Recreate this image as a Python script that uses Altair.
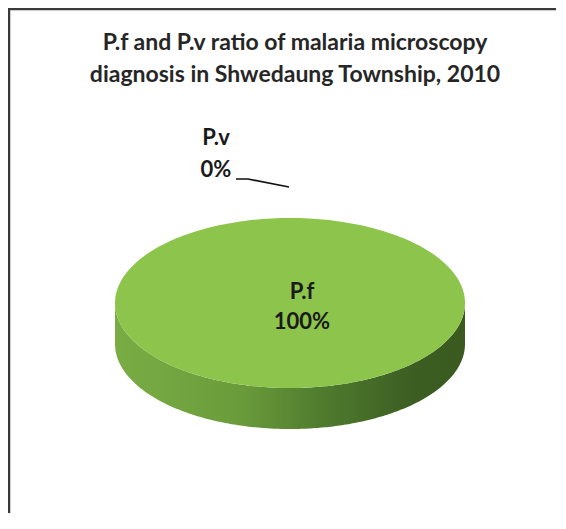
import altair as alt
import pandas as pd

# ---- data ----
categories = ["P.f", "P.v"]
values = [100, 0]
slice_colors = ["#8dc54c", "#c0504d"]
title_lines = ["P.f and P.v ratio of malaria microscopy",
               "diagnosis in Shwedaung Township, 2010"]

# ---- layout (page pixel coordinates) ----
W, H = 548, 505
CX, CY, A, B, DEPTH = 290, 303, 175, 85, 41
N = 241
FONT = "Lato"

df = pd.DataFrame({"category": categories, "value": values,
                   "order": list(range(len(categories)))})

xs = alt.Scale(domain=[8, 8 + W], nice=False, zero=False)
ys = alt.Scale(domain=[8, 8 + H], reverse=True, nice=False, zero=False)
color_scale = alt.Scale(domain=categories, range=slice_colors)

base = alt.Chart(df).transform_joinaggregate(
    total="sum(value)"
).transform_window(
    cum="sum(value)", sort=[alt.SortField("order")], frame=[None, 0]
).transform_calculate(
    frac="datum.value / datum.total",
    s="(datum.cum - datum.value) / datum.total * 2 * PI",
    e="datum.cum / datum.total * 2 * PI",
)

# side wall (front half only)
wall = base.transform_calculate(
    lo="max(datum.s, PI / 2)", hi="min(datum.e, 3 * PI / 2)"
).transform_filter("datum.hi > datum.lo").transform_calculate(
    idx=f"sequence(0, {2 * N})"
).transform_flatten(["idx"]).transform_calculate(
    t=f"datum.idx < {N} ? datum.idx / {N - 1} : 1 - (datum.idx - {N}) / {N - 1}",
    th="datum.lo + (datum.hi - datum.lo) * datum.t",
    px=f"{CX} + {A} * sin(datum.th)",
    py=f"{CY} - {B} * cos(datum.th) + (datum.idx < {N} ? 0 : {DEPTH})",
).mark_line(
    filled=True,
    color=alt.Gradient(
        gradient="linear", x1=0, x2=1, y1=0, y2=0,
        stops=[alt.GradientStop(offset=0, color="#7aac45"),
               alt.GradientStop(offset=0.35, color="#6a9c3b"),
               alt.GradientStop(offset=0.6, color="#4f7a2e"),
               alt.GradientStop(offset=0.85, color="#3c5e22"),
               alt.GradientStop(offset=1, color="#3a5a20")]),
).encode(
    x=alt.X("px:Q", scale=xs, axis=None),
    y=alt.Y("py:Q", scale=ys, axis=None),
    detail="category:N",
    order="idx:Q",
)

# top face
top = base.transform_filter("datum.value > 0").transform_calculate(
    idx=f"sequence(0, {N + 2})"
).transform_flatten(["idx"]).transform_calculate(
    th=f"datum.s + (datum.e - datum.s) * clamp(datum.idx - 1, 0, {N - 1}) / {N - 1}",
    isc=f"datum.idx == 0 || datum.idx == {N + 1}",
    px=f"datum.isc ? {CX} : {CX} + {A} * sin(datum.th)",
    py=f"datum.isc ? {CY} : {CY} - {B} * cos(datum.th)",
).mark_line(filled=True).encode(
    x=alt.X("px:Q", scale=xs, axis=None),
    y=alt.Y("py:Q", scale=ys, axis=None),
    color=alt.Color("category:N", scale=color_scale, legend=None),
    detail="category:N",
    order="idx:Q",
)

lab = base.transform_calculate(
    mid="(datum.s + datum.e) / 2",
    ax=f"{CX} + {A} * sin(datum.mid)",
    ay=f"{CY} - {B} * cos(datum.mid)",
    label="[datum.category, format(datum.frac, '.0%')]",
)

inside = lab.transform_filter("datum.frac >= 0.05").transform_calculate(
    lx=f"datum.frac == 1 ? {CX} + 12 : {CX} + 0.55 * {A} * sin(datum.mid)",
    ly=f"datum.frac == 1 ? {CY} - 4 : {CY} - 0.55 * {B} * cos(datum.mid) - 8",
).mark_text(
    font=FONT, fontSize=22, fontWeight="bold", color="#1a1a1a",
    align="center", baseline="alphabetic", lineHeight=30,
).encode(
    x=alt.X("lx:Q", scale=xs, axis=None),
    y=alt.Y("ly:Q", scale=ys, axis=None),
    text="label:N",
)

outside = lab.transform_filter("datum.frac < 0.05")

out_text = outside.transform_calculate(
    lx="datum.ax - 74", ly="datum.ay - 73",
).mark_text(
    font=FONT, fontSize=22, fontWeight="bold", color="#1a1a1a",
    align="center", baseline="alphabetic", lineHeight=32,
).encode(
    x=alt.X("lx:Q", scale=xs, axis=None),
    y=alt.Y("ly:Q", scale=ys, axis=None),
    text="label:N",
)

leader = outside.transform_calculate(
    k="sequence(0, 3)"
).transform_flatten(["k"]).transform_calculate(
    lx="datum.ax + [-54, -42, -1][datum.k]",
    ly="datum.ay + [-39, -39, -31][datum.k]",
).mark_line(color="#111111", strokeWidth=1.6).encode(
    x=alt.X("lx:Q", scale=xs, axis=None),
    y=alt.Y("ly:Q", scale=ys, axis=None),
    detail="category:N",
    order="k:Q",
)

title = alt.Chart(alt.Data(values=[{"t": title_lines}])).mark_text(
    font=FONT, fontSize=23, fontWeight="bold", color="#262626",
    align="center", baseline="alphabetic", lineHeight=32,
).encode(
    x=alt.value(295 - 8), y=alt.value(50 - 8), text="t:N",
)

# chart frame: left and top edges only (as in the reference)
frame = alt.Chart(alt.Data(values=[{"f": 1}])).transform_calculate(
    k="sequence(0, 3)"
).transform_flatten(["k"]).transform_calculate(
    fx=f"[9, 9, {8 + W}][datum.k]",
    fy=f"[{8 + H}, 9, 9][datum.k]",
).mark_line(color="#3a3a3a", strokeWidth=2.5, strokeCap="square").encode(
    x=alt.X("fx:Q", scale=xs, axis=None),
    y=alt.Y("fy:Q", scale=ys, axis=None),
    order="k:Q",
)

chart = alt.layer(
    frame, wall, top, inside, leader, out_text, title
).properties(
    width=W, height=H, padding=0, autosize=alt.AutoSizeParams(type="none"),
    background="white",
).configure_view(stroke=None)

chart.save("out.html", embed_options={"renderer": "svg", "actions": False})
